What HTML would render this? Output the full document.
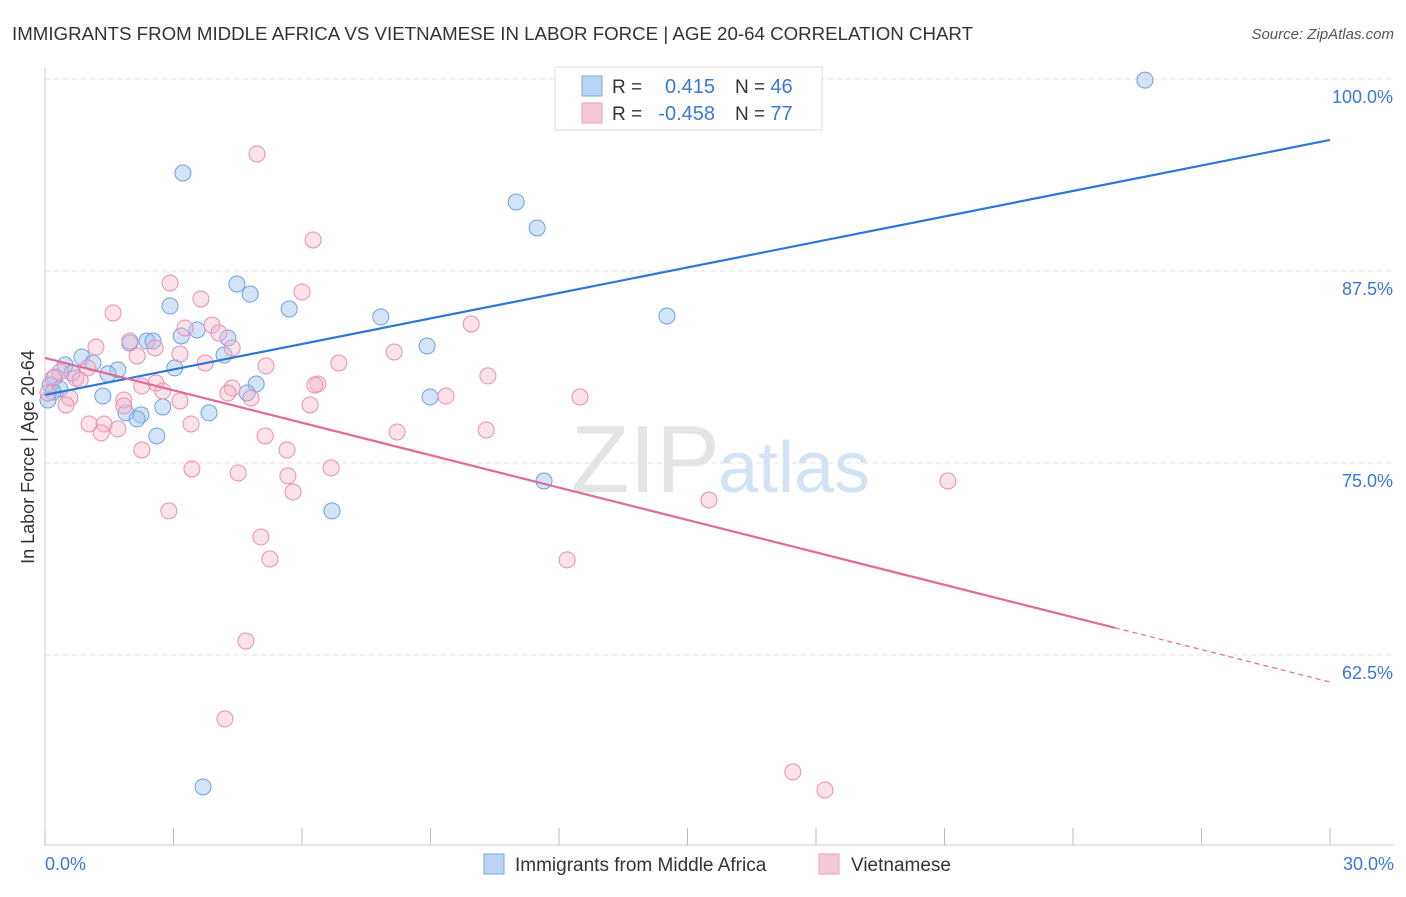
<!DOCTYPE html>
<html><head><meta charset="utf-8"><style>
body{margin:0;background:#fff;font-family:"Liberation Sans",sans-serif;}
svg text{font-family:"Liberation Sans",sans-serif;}
</style></head><body>
<svg id="chart" width="1406" height="892">
<text x="12" y="40" font-size="18.7" fill="#333" textLength="961">IMMIGRANTS FROM MIDDLE AFRICA VS VIETNAMESE IN LABOR FORCE | AGE 20-64 CORRELATION CHART</text>
<text x="1394" y="39" font-size="15" fill="#555" font-style="italic" text-anchor="end">Source: ZipAtlas.com</text>
<text x="34" y="457" font-size="18" fill="#333" text-anchor="middle" transform="rotate(-90 34 457)">In Labor Force | Age 20-64</text>
<g id="grid"></g>
<text x="720" y="492" font-size="96" fill="#e4e4e4" text-anchor="end" font-family="Liberation Serif">ZIP</text>
<text x="718" y="492" font-size="72" fill="#d4e3f4">atlas</text>
<g id="pts"></g>
<g id="lines"></g>
<g>
<rect x="555" y="67" width="267" height="63" fill="#fff" stroke="#ddd"/>
<rect x="582" y="76" width="20" height="20" fill="#b9d3f3" stroke="#7aa7e2"/>
<rect x="582" y="103" width="20" height="20" fill="#f9c8d8" stroke="#eda0b8"/>
<text x="612" y="93" font-size="19" fill="#333">R =</text>
<text x="715" y="93" font-size="20" fill="#3a78d8" text-anchor="end">0.415</text>
<text x="735" y="93" font-size="19" fill="#333">N = <tspan fill="#3a78d8" font-size="20">46</tspan></text>
<text x="612" y="120" font-size="19" fill="#333">R =</text>
<text x="715" y="120" font-size="20" fill="#3a78d8" text-anchor="end">-0.458</text>
<text x="735" y="120" font-size="19" fill="#333">N = <tspan fill="#3a78d8" font-size="20">77</tspan></text>
</g>
<g>
<rect x="484" y="854" width="20" height="20" fill="#b9d3f3" stroke="#7aa7e2"/>
<text x="515" y="871" font-size="19" fill="#333">Immigrants from Middle Africa</text>
<rect x="819" y="854" width="20" height="20" fill="#f9c8d8" stroke="#eda0b8"/>
<text x="851" y="871" font-size="19" fill="#333">Vietnamese</text>
</g>
</svg>
<script>
const blueX=[25.68,3.22,11.0,11.49,4.48,4.79,2.92,5.70,7.84,14.52,3.55,3.18,2.38,2.52,1.98,4.27,8.92,4.18,0.86,1.12,0.47,3.03,1.70,1.47,0.23,0.63,4.93,0.12,0.35,0.19,0.07,1.35,4.72,8.99,2.75,1.89,2.24,2.15,3.83,2.61,11.65,6.70,3.69];
const blueY=[99.93,93.88,91.99,90.30,86.65,86.0,85.22,85.03,84.51,84.57,83.66,83.27,82.94,82.94,82.81,83.14,82.62,82.03,81.90,81.51,81.38,81.19,81.06,80.80,80.60,80.86,80.14,80.08,79.82,79.62,79.10,79.36,79.56,79.30,78.65,78.26,78.13,77.87,78.26,76.76,73.83,71.88,53.91];
const pinkX=[4.95,6.26,2.92,3.64,1.59,6.00,9.95,3.27,3.90,4.06,1.98,2.57,4.37,1.19,3.15,2.15,8.15,6.86,3.74,5.16,1.00,0.35,0.72,0.82,10.34,6.37,6.30,2.59,2.26,4.37,2.75,0.19,0.07,4.27,9.36,12.49,4.81,0.58,3.15,1.84,0.49,1.84,6.19,1.03,1.38,1.70,1.31,3.41,8.22,10.30,5.14,2.26,5.65,3.43,6.68,4.51,5.67,21.08,5.79,15.50,2.89,5.04,5.25,12.19,4.69,4.20,17.46,18.21];
const pinkY=[95.12,89.52,86.72,85.68,84.77,86.13,84.05,83.79,83.98,83.46,82.94,82.49,82.49,82.55,82.10,81.97,82.23,81.51,81.51,81.32,81.19,80.93,80.53,80.40,80.67,80.14,80.08,80.21,80.01,79.88,79.69,80.53,79.56,79.56,79.36,79.30,79.23,79.23,79.04,79.10,78.78,78.71,78.78,77.54,77.54,77.22,76.96,77.54,77.02,77.15,76.76,75.85,75.85,74.61,74.68,74.35,74.16,73.83,73.11,72.59,71.88,70.18,68.75,68.69,63.41,58.34,54.89,53.71];
const blueTrend=[79.43,96.03];
const pinkTrend=[81.84,60.74];
const pinkSolidEnd=24.98;
const yTicks=[100,87.5,75,62.5];
const yTickLabels=["100.0%","87.5%","75.0%","62.5%"];
const xTicks=[0,3,6,9,12,15,18,21,24,27,30];

const NS="http://www.w3.org/2000/svg";
const sx=v=>45+v/30*1285;
const sy=v=>79+(100-v)*15.36;
function mk(tag,attrs,parent){const e=document.createElementNS(NS,tag);for(const k in attrs)e.setAttribute(k,attrs[k]);parent.appendChild(e);return e;}
const grid=document.getElementById('grid');
yTicks.forEach((t,i)=>{
  const l=mk('line',{x1:45,x2:1394,y1:sy(t),y2:sy(t),stroke:'#e2e2e2','stroke-dasharray':'5,4'},grid);
  
  
  const tx=mk('text',{x:1393,y:sy(t)+24,'font-size':18,fill:'#3a78d8','text-anchor':'end'},grid);
  tx.textContent=yTickLabels[i];
  
  
});
const ax=mk('line',{x1:45,x2:1394,y1:845,y2:845,stroke:'#ccc'},grid);


const ay=mk('line',{x1:45,x2:45,y1:68,y2:845,stroke:'#ccc'},grid);


xTicks.forEach(t=>{
  const l=mk('line',{x1:sx(t),x2:sx(t),y1:828,y2:845,stroke:'#bbb'},grid);
  
  
});
const xl0=mk('text',{x:45,y:870,'font-size':18,fill:'#3a78d8'},grid);xl0.textContent="0.0%";


const xl1=mk('text',{x:1394,y:870,'font-size':18,fill:'#3a78d8','text-anchor':'end'},grid);xl1.textContent="30.0%";



const pts=document.getElementById('pts');
blueX.forEach((x,i)=>{
  const c=mk('circle',{cx:sx(x),cy:sy(blueY[i]),r:8,fill:'rgba(160,195,240,0.45)',stroke:'#6fa0e0','stroke-width':1},pts);
  
  
});
pinkX.forEach((x,i)=>{
  const c=mk('circle',{cx:sx(x),cy:sy(pinkY[i]),r:8,fill:'rgba(245,180,202,0.4)',stroke:'#ea8fae','stroke-width':1},pts);
  
  
});
const lines=document.getElementById('lines');
const bl=mk('line',{x1:sx(0),y1:sy(blueTrend[0]),x2:sx(30),y2:sy(blueTrend[1]),stroke:'#2f74d8','stroke-width':2.2},lines);


const pAt=x=>pinkTrend[0]+(pinkTrend[1]-pinkTrend[0])*x/30;
const pl=mk('line',{x1:sx(0),y1:sy(pAt(0)),x2:sx(pinkSolidEnd),y2:sy(pAt(pinkSolidEnd)),stroke:'#e4689a','stroke-width':2.2},lines);


const pd=mk('line',{x1:sx(pinkSolidEnd),y1:sy(pAt(pinkSolidEnd)),x2:sx(30),y2:sy(pAt(30)),stroke:'#e4689a','stroke-width':1.2,'stroke-dasharray':'5,4'},lines);


</script>
</body></html>
